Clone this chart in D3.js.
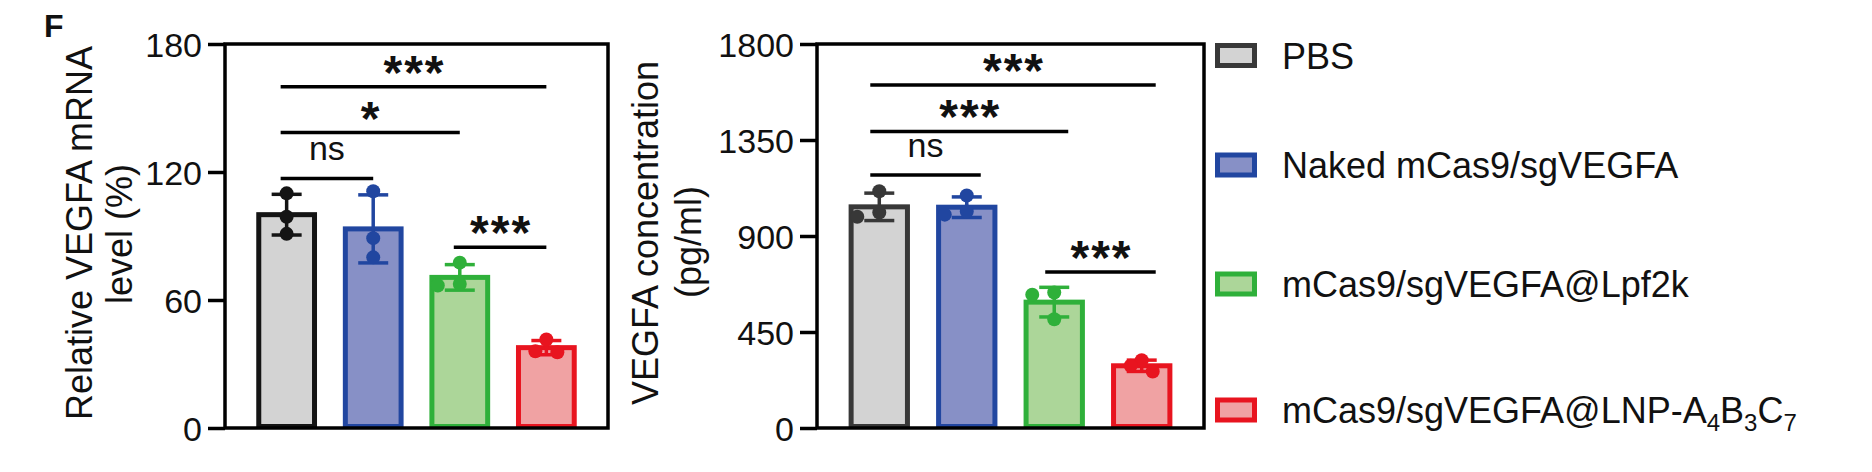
<!DOCTYPE html>
<html><head><meta charset="utf-8">
<script src="https://cdn.jsdelivr.net/npm/d3@7"></script>
<style>
body{margin:0;background:#fff;}
svg{display:block;}
text{font-family:"Liberation Sans",Arial,Helvetica,sans-serif;fill:#111;}
</style>
</head><body>
<svg id="c" width="1872" height="472"></svg>
<script>
// ---------- data ----------
const groups = ["PBS", "Naked mCas9/sgVEGFA", "mCas9/sgVEGFA@Lpf2k", "mCas9/sgVEGFA@LNP-A_4B_3C_7"];
const fillColors = ["#d3d3d3", "#8790c6", "#acd699", "#f0a2a3"];
const strokeColorsLeft = ["#141414", "#2146a0", "#2fb03a", "#e8141f"];
const strokeColorsRight = ["#383838", "#2146a0", "#2fb03a", "#e8141f"];

const mrnaPoints = [[110, 99, 91], [111, 89, 80], [77.5, 67.5, 66.8], [41.5, 36, 35.5]];
const mrnaTicks = [0, 60, 120, 180];
const mrnaSig = [
  {a: 0, b: 3, level: 160, label: "***"},
  {a: 0, b: 2, level: 138.5, label: "*"},
  {a: 0, b: 1, level: 117, label: "ns"},
  {a: 2, b: 3, level: 84.7, label: "***"}
];

const concPoints = [[1110, 990, 1010], [1090, 1000, 1015], [635, 625, 510], [265, 318, 292]];
const concTicks = [0, 450, 900, 1350, 1800];
const concSig = [
  {a: 0, b: 3, level: 1608, label: "***"},
  {a: 0, b: 2, level: 1390, label: "***"},
  {a: 0, b: 1, level: 1186, label: "ns"},
  {a: 2, b: 3, level: 731, label: "***"}
];

// ---------- drawing ----------
const svg = d3.select("#c");
svg.append("rect").attr("width", 1872).attr("height", 472).attr("fill", "#fff");

svg.append("text").attr("x", 44).attr("y", 37)
  .style("font-size", "32px").style("font-weight", "bold").text("F");

function chart(cfg) {
  const g = svg.append("g");
  const x = d3.scaleBand().domain(d3.range(groups.length))
    .range([cfg.x0, cfg.x1]).paddingInner(0.356).paddingOuter(0.39);
  const y = d3.scaleLinear().domain([0, cfg.max]).range([cfg.y1, cfg.y0]);
  const bw = x.bandwidth();
  const cx = i => x(i) + bw / 2;
  const stats = cfg.points.map(p => ({mean: d3.mean(p), sd: d3.deviation(p)}));

  // bars
  g.selectAll("rect.bar").data(stats).join("rect").attr("class", "bar")
    .attr("x", (d, i) => x(i)).attr("width", bw)
    .attr("y", d => y(d.mean)).attr("height", d => y(0) - y(d.mean) - 1.5)
    .attr("fill", (d, i) => fillColors[i])
    .attr("stroke", (d, i) => cfg.colors[i]).attr("stroke-width", 5);

  // error bars
  const capW = 30;
  stats.forEach((s, i) => {
    const c = cfg.colors[i];
    const eg = g.append("g").attr("stroke", c).attr("stroke-width", 3.5);
    eg.append("line").attr("x1", cx(i)).attr("x2", cx(i)).attr("y1", y(s.mean - s.sd)).attr("y2", y(s.mean + s.sd));
    [s.mean - s.sd, s.mean + s.sd].forEach(v => {
      eg.append("line").attr("x1", cx(i) - capW / 2).attr("x2", cx(i) + capW / 2).attr("y1", y(v)).attr("y2", y(v));
    });
  });

  // points (simple swarm)
  const r = 7, d = 11;
  cfg.points.forEach((pts, i) => {
    const placed = [];
    pts.map(v => v).sort((a, b) => b - a).forEach(v => {
      const py = y(v);
      const cands = [0, -d, d, -2 * d, 2 * d];
      let dx = 0;
      for (const c of cands) {
        if (placed.every(p => Math.hypot(p.dx - c, p.py - py) >= 2 * r * 0.85)) { dx = c; break; }
      }
      placed.push({dx, py});
    });
    g.selectAll(null).data(placed).join("circle")
      .attr("cx", p => cx(i) + p.dx).attr("cy", p => p.py).attr("r", r)
      .attr("fill", cfg.colors[i]);
  });

  // frame
  g.append("rect").attr("x", cfg.x0).attr("y", cfg.y0)
    .attr("width", cfg.x1 - cfg.x0).attr("height", cfg.y1 - cfg.y0)
    .attr("fill", "none").attr("stroke", "#000").attr("stroke-width", 3.5);

  // y axis
  const ax = g.append("g").attr("transform", `translate(${cfg.x0},0)`)
    .call(d3.axisLeft(y).tickValues(cfg.ticks).tickSize(17).tickSizeOuter(0).tickPadding(6).tickFormat(d3.format("d")));
  ax.select(".domain").remove();
  ax.selectAll(".tick line").attr("stroke", "#000").attr("stroke-width", 3.5);
  ax.selectAll(".tick text").style("font-size", "34px")
    .style("font-family", '"Liberation Sans",Arial,sans-serif').attr("fill", "#111").attr("dy", "0.36em");

  // y title
  cfg.title.forEach(t => {
    g.append("text").attr("transform", `translate(${t.x},${t.y}) rotate(-90)`)
      .attr("text-anchor", "middle").style("font-size", "36px").text(t.text);
  });

  // significance
  cfg.sig.forEach(s => {
    const xa = cx(s.a) + cfg.sigOff[0], xb = cx(s.b) + cfg.sigOff[1];
    const ly = y(s.level);
    g.append("line").attr("x1", xa).attr("x2", xb).attr("y1", ly).attr("y2", ly)
      .attr("stroke", "#000").attr("stroke-width", 3.5);
    const t = g.append("text").attr("x", (xa + xb) / 2).attr("text-anchor", "middle").text(s.label);
    if (s.label === "ns") {
      t.attr("y", ly - 18).style("font-size", "34px");
    } else {
      t.attr("y", ly + 2).style("font-size", "48px").style("font-weight", "bold")
        .style("letter-spacing", "2px").attr("dx", 1);
    }
  });
}

chart({x0: 225, x1: 608, y0: 44, y1: 428, max: 180, ticks: mrnaTicks, points: mrnaPoints,
  sig: mrnaSig, colors: strokeColorsLeft, sigOff: [-6, 0],
  title: [{x: 92, y: 233, text: "Relative VEGFA mRNA"}, {x: 132, y: 234, text: "level (%)"}]});

chart({x0: 817, x1: 1204, y0: 44, y1: 428, max: 1800, ticks: concTicks, points: concPoints,
  sig: concSig, colors: strokeColorsRight, sigOff: [-9, 14],
  title: [{x: 658, y: 233, text: "VEGFA concentration"}, {x: 701, y: 242, text: "(pg/ml)"}]});

// legend
const legendY = [55.5, 165, 284, 410];
const lg = svg.append("g");
groups.forEach((name, i) => {
  const cy = legendY[i];
  lg.append("rect").attr("x", 1217.5).attr("y", cy - 10).attr("width", 37).attr("height", 20)
    .attr("fill", fillColors[i]).attr("stroke", strokeColorsRight[i]).attr("stroke-width", 5);
  const t = lg.append("text").attr("x", 1282).attr("y", cy + 13).style("font-size", "36px");
  const parts = name.split(/(_\d)/).filter(p => p.length);
  let shifted = false;
  parts.forEach(p => {
    if (p.startsWith("_")) {
      t.append("tspan").attr("dy", 8).style("font-size", "24px").text(p.slice(1));
      shifted = true;
    } else {
      const ts = t.append("tspan").text(p);
      if (shifted) { ts.attr("dy", -8); shifted = false; }
    }
  });
});
</script>
</body></html>
